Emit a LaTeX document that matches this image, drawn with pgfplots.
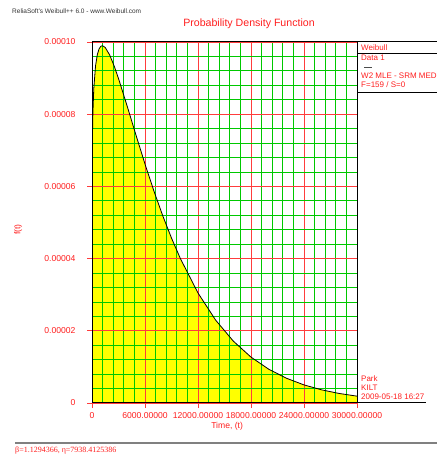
\documentclass[border=0pt]{standalone}
\usepackage{fontspec}
\setmainfont{Liberation Sans}
\newfontfamily\timesfont{Liberation Serif}
\usepackage{pgfplots}
\pgfplotsset{compat=1.18}
\usepackage{pgfplotstable}

\definecolor{gridgreen}{RGB}{0,200,0}
\definecolor{gridred}{RGB}{255,60,60}
\definecolor{txtred}{RGB}{255,30,30}
\definecolor{pdfyellow}{RGB}{255,255,0}

% Weibull pdf, beta=1.1294366, eta=7938.4125386
\pgfplotstableread{
t f
0 0
1 4.45e-5
10 5.992e-5
50 7.360e-5
100 8.019e-5
200 8.698e-5
400 9.339e-5
600 9.648e-5
800 9.809e-5
1000 9.882e-5
1200 9.897e-5
1500 9.847e-5
2000 9.641e-5
2500 9.341e-5
3000 8.989e-5
4000 8.210e-5
5000 7.404e-5
6000 6.620e-5
7000 5.879e-5
8000 5.193e-5
9000 4.568e-5
10000 4.004e-5
12000 3.047e-5
14000 2.295e-5
16000 1.714e-5
18000 1.271e-5
20000 9.373e-6
22000 6.870e-6
24000 5.011e-6
26000 3.640e-6
28000 2.634e-6
30000 1.899e-6
}\pdftable

\begin{document}
\begin{tikzpicture}
\begin{axis}[
  set layers,
  at={(92pt,56pt)}, anchor=south west,
  scale only axis, width=265pt, height=361pt,
  xmin=0, xmax=30000, ymin=0, ymax=0.0001,
  xtick={0,6000,12000,18000,24000,30000},
  xticklabels={0,6000.00000,12000.00000,18000.00000,24000.00000,30000.00000},
  ytick={0,0.00002,0.00004,0.00006,0.00008,0.0001},
  yticklabels={0,0.00002,0.00004,0.00006,0.00008,0.00010},
  scaled ticks=false,
  minor x tick num=4, minor y tick num=4,
  grid=both,
  major grid style={gridred, line width=0.8pt},
  minor grid style={gridgreen, line width=0.8pt},
  xtick pos=bottom, ytick pos=left,
  tick align=outside,
  major tick length=5pt, minor tick length=0pt,
  major tick style={gridred, line width=0.8pt},
  axis line style={black, line width=1pt},
  tick label style={font=\fontsize{8.6}{10}\selectfont, text=txtred},
  /pgf/number format/assume math mode=true,
  xticklabel style={yshift=-1pt},
  yticklabel style={xshift=-8pt},
  xlabel={Time, (t)},
  xlabel style={font=\fontsize{8.6}{10}\selectfont, text=txtred,
    at={(axis description cs:0.51,-0.064)}, anchor=center},
  ylabel={f(t)},
  ylabel style={font=\fontsize{8.6}{10}\selectfont, text=txtred,
    at={(axis description cs:-0.279,0.48)}, anchor=center},
]
\addplot[draw=none, fill=pdfyellow, on layer=axis background] table[x=t, y=f] {\pdftable} \closedcycle;
\addplot[black, line width=0.8pt] table[x=t, y=f] {\pdftable};
\end{axis}

% header
\node[anchor=west, inner sep=0pt, text=black!80, font=\fontsize{6.5}{8}\selectfont] at (12pt,447.5pt) {ReliaSoft's Weibull++ 6.0 - www.Weibull.com};
\node[inner sep=0pt, text=txtred, font=\fontsize{10.6}{12}\selectfont] at (249pt,435pt) {Probability Density Function};

% right legend panel
\draw[black, line width=1pt] (357pt,417pt) -- (437pt,417pt);
\draw[black, line width=0.8pt] (357pt,406pt) -- (437pt,406pt);
\draw[black, line width=0.8pt] (357pt,367pt) -- (437pt,367pt);
\draw[black!70, line width=0.8pt] (364pt,392pt) -- (372pt,392pt);
\draw[black, line width=1pt] (357pt,56pt) -- (426pt,56pt);
\begin{scope}[every node/.style={anchor=west, inner sep=0pt, text=txtred, font=\fontsize{8}{9.6}\selectfont}]
\node at (361pt,411pt) {Weibull};
\node at (361pt,401pt) {Data 1};
\node at (361pt,383pt) {W2 MLE - SRM MED};
\node at (361pt,374pt) {F=159 / S=0};
\node at (361pt,80pt) {Park};
\node at (361pt,71pt) {KILT};
\node at (361pt,62pt) {2009-05-18 16:27};
\end{scope}

% footer
\draw[black!50, line width=1.5pt] (15pt,16pt) -- (437pt,16pt);
\node[anchor=west, inner sep=0pt, text=txtred, font=\timesfont\fontsize{8}{9.6}\selectfont] at (15pt,8.5pt) {β=1.1294366, η=7938.4125386};
\path (0pt,0pt) rectangle (437pt,459pt);
\end{tikzpicture}
\end{document}
